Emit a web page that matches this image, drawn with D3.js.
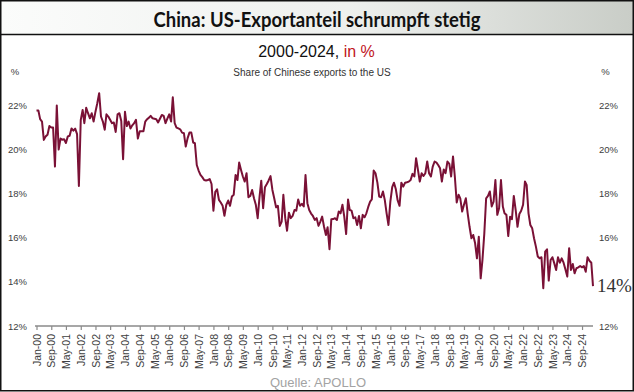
<!DOCTYPE html>
<html>

<meta charset="utf-8">

<svg width="634" height="392"></svg>
<script src="https://d3js.org/d3.v7.min.js"></script>
<style>
  body {
    margin: 0;
  }

  svg {
    display: block;
    background: #fff;
  }

  .axis text {
    font-family: "Liberation Sans", Arial, sans-serif;
    fill: #404040;
  }
</style>
<script>

  // share of Chinese exports going to the US, monthly, Jan-2000 .. Mar-2025 (in %)
  var startMonth = new Date(2000, 0, 1);
  var shareUS = [
    21.77, 21.77, 21.38, 21.27, 20.44, 20.6, 20.67, 21.07, 21.0, 21.0, 19.23, 22.0,     // 2000
    20.0, 20.5, 20.45, 20.47, 20.3, 20.6, 20.63, 20.96, 20.86, 20.95, 20.7, 18.35,      // 2001
    21.35, 21.8, 21.2, 21.9, 21.65, 21.42, 21.65, 21.27, 21.72, 22.1, 22.56, 21.5,      // 2002
    21.27, 20.9, 21.6, 21.5, 21.35, 21.2, 21.23, 20.8, 21.6, 21.65, 21.3, 19.56,        // 2003
    21.72, 21.07, 21.27, 20.96, 21.1, 21.2, 21.35, 20.5, 20.83, 20.83, 20.83, 21.27,    // 2004
    21.38, 21.45, 21.53, 21.42, 21.4, 21.38, 21.23, 21.4, 21.57, 21.53, 21.2, 21.4,     // 2005
    21.6, 21.27, 22.37, 21.2, 21.0, 20.96, 20.92, 20.77, 20.74, 20.14, 20.52, 20.77,    // 2006
    20.77, 20.32, 20.29, 19.3, 19.05, 18.85, 18.75, 18.62, 18.6, 18.62, 18.66, 18.44,   // 2007
    17.23, 18.09, 18.2, 17.72, 17.6, 17.45, 17.0, 17.5, 17.69, 17.45, 17.87, 17.95,     // 2008
    18.85, 18.62, 19.41, 19.08, 18.78, 18.55, 18.93, 17.84, 17.9, 18.17, 17.79, 17.5,   // 2009
    16.89, 17.87, 18.59, 17.34, 18.29, 18.44, 18.6, 18.8, 18.17, 17.79, 17.38, 17.45,   // 2010
    16.54, 16.73, 17.95, 16.89, 16.32, 17.14, 16.89, 16.99, 17.26, 17.23, 17.74, 17.45, // 2011
    17.54, 17.42, 18.85, 17.57, 17.26, 17.1, 16.99, 16.81, 16.89, 16.54, 16.73, 16.96,  // 2012
    16.5, 16.13, 16.48, 15.48, 16.84, 16.85, 16.89, 16.81, 17.19, 17.11, 17.5, 16.96,   // 2013
    16.17, 17.74, 17.26, 17.23, 16.89, 16.93, 16.58, 16.99, 16.43, 17.04, 16.93, 17.11, // 2014
    17.4, 17.64, 17.74, 19.05, 18.93, 18.5, 17.87, 17.84, 18.1, 17.72, 17.1, 16.58,     // 2015
    17.64, 18.3, 18.5, 18.2, 17.69, 17.45, 18.5, 18.32, 18.5, 18.52, 18.55, 18.62,      // 2016
    18.9, 18.78, 19.61, 19.08, 18.55, 18.93, 18.8, 18.93, 19.46, 18.93, 18.78, 19.23,   // 2017
    19.46, 19.41, 19.3, 19.15, 18.55, 19.1, 18.93, 19.46, 19.35, 18.78, 19.69, 18.78,   // 2018
    17.6, 17.95, 17.79, 17.19, 17.5, 17.79, 17.11, 16.5, 15.98, 16.13, 15.75, 15.07,    // 2019
    16.05, 14.16, 14.99, 16.2, 17.79, 17.9, 18.1, 17.42, 17.64, 18.62, 17.04, 17.34,    // 2020
    18.62, 17.42, 17.11, 17.04, 16.08, 16.96, 16.84, 17.9, 17.26, 16.5, 17.08, 17.23,   // 2021
    17.5, 18.55, 18.4, 17.11, 16.58, 16.43, 15.98, 15.6, 15.15, 15.07, 15.12, 13.71,    // 2022
    15.37, 15.48, 14.06, 14.99, 15.12, 14.84, 14.54, 15.12, 14.87, 15.07, 14.87, 14.57, // 2023
    14.24, 15.53, 14.54, 14.81, 14.39, 14.62, 14.66, 14.72, 14.66, 14.72, 14.46, 15.12, // 2024
    14.96, 14.87, 13.81                                                                 // 2025
  ];

  // x axis: a label every 8 months, Jan-00 .. Sep-24
  var tickStepMonths = 8;
  var lastTickMonth = 296;
  // y axes (the right one leaves 14% to the end label)
  var yTicksLeft = [12, 14, 16, 18, 20, 22];
  var yTicksRight = [12, 16, 18, 20, 22];
  var yDomain = [12, 22];

  var titleText = "China: US-Exportanteil schrumpft stetig";
  var subtitleYears = "2000-2024,";
  var subtitleUnit = " in %";
  var seriesName = "Share of Chinese exports to the US";
  var endLabel = "14%";
  var sourceText = "Quelle: APOLLO";

  var data = shareUS.map(function (v, i) {
    return { date: d3.timeMonth.offset(startMonth, i), value: v };
  });

  var svg = d3.select("svg"),
    W = +svg.attr("width"),
    H = +svg.attr("height");

  var lineColor = "#7a1136";

  // scales
  var x = d3.scaleTime()
    .domain(d3.extent(data, function (d) { return d.date; }))
    .range([36.5, 593]);

  var y = d3.scaleLinear()
    .domain(yDomain)
    .range([326, 105.5]);

  // title bar with a light grey gradient
  var defs = svg.append("defs");
  var grad = defs.append("linearGradient")
    .attr("id", "titleGrad")
    .attr("x1", "0%").attr("x2", "100%");
  grad.append("stop").attr("offset", "0%").attr("stop-color", "#fbfcfb");
  grad.append("stop").attr("offset", "55%").attr("stop-color", "#eef0ee");
  grad.append("stop").attr("offset", "100%").attr("stop-color", "#c9cdc7");

  svg.append("rect")
    .attr("x", 1).attr("y", 1)
    .attr("width", W - 2).attr("height", 33)
    .attr("fill", "url(#titleGrad)");

  svg.append("line")
    .attr("x1", 0).attr("x2", W)
    .attr("y1", 34.5).attr("y2", 34.5)
    .attr("stroke", "#111")
    .attr("stroke-width", 1.5);

  svg.append("text")
    .attr("x", W / 2)
    .attr("y", 26.5)
    .attr("text-anchor", "middle")
    .attr("font-family", "Lato, 'Open Sans', sans-serif")
    .attr("font-weight", "bold")
    .attr("font-size", 20)
    .attr("textLength", 327)
    .attr("lengthAdjust", "spacingAndGlyphs")
    .attr("fill", "#111")
    .text(titleText);

  // subtitle lines
  var sub = svg.append("text")
    .attr("x", 316.5)
    .attr("y", 57)
    .attr("text-anchor", "middle")
    .attr("font-family", "'Liberation Sans', Arial, sans-serif")
    .attr("font-size", 16);
  sub.append("tspan").attr("fill", "#111").text(subtitleYears);
  sub.append("tspan").attr("fill", "#c0141c").text(subtitleUnit);

  svg.append("text")
    .attr("x", 312)
    .attr("y", 76)
    .attr("text-anchor", "middle")
    .attr("font-family", "'Liberation Sans', Arial, sans-serif")
    .attr("font-size", 10)
    .attr("fill", "#333")
    .text(seriesName);

  // "%" unit marks above both y axes
  [15, 605.5].forEach(function (px) {
    svg.append("text")
      .attr("x", px)
      .attr("y", 75)
      .attr("text-anchor", "middle")
      .attr("font-family", "'Liberation Sans', Arial, sans-serif")
      .attr("font-size", 9.5)
      .attr("fill", "#404040")
      .text("%");
  });

  // y axes, labels only
  var yLeft = svg.append("g")
    .attr("class", "axis")
    .attr("transform", "translate(27,0)")
    .call(d3.axisLeft(y).tickValues(yTicksLeft).tickSize(0).tickPadding(0)
      .tickFormat(function (d) { return d + "%"; }));

  var yRight = svg.append("g")
    .attr("class", "axis")
    .attr("transform", "translate(599,0)")
    .call(d3.axisRight(y).tickValues(yTicksRight).tickSize(0).tickPadding(0)
      .tickFormat(function (d) { return d + "%"; }));

  [yLeft, yRight].forEach(function (g) {
    g.select(".domain").remove();
    g.selectAll("text").attr("font-size", 9.5);
  });

  // x axis
  var tickDates = d3.range(0, lastTickMonth + 1, tickStepMonths).map(function (m) {
    return d3.timeMonth.offset(startMonth, m);
  });

  var xAxis = svg.append("g")
    .attr("class", "axis")
    .attr("transform", "translate(0," + y(yDomain[0]) + ")")
    .call(d3.axisBottom(x).tickValues(tickDates).tickSizeInner(4).tickSizeOuter(0)
      .tickFormat(d3.timeFormat("%b-%y")));

  xAxis.select(".domain")
    .attr("stroke", "#8a8a8a")
    .attr("stroke-width", 1.5)
    .attr("d", "M35,0H593");
  xAxis.selectAll(".tick line")
    .attr("stroke", "#8a8a8a")
    .attr("stroke-width", 1.2);
  xAxis.selectAll(".tick text")
    .attr("font-size", 10.5)
    .attr("transform", "rotate(-90)")
    .attr("x", -8)
    .attr("y", 0)
    .attr("dy", "0.35em")
    .style("text-anchor", "end");

  // the line
  var line = d3.line()
    .x(function (d) { return x(d.date); })
    .y(function (d) { return y(d.value); });

  svg.append("path")
    .datum(data)
    .attr("fill", "none")
    .attr("stroke", lineColor)
    .attr("stroke-width", 2)
    .attr("stroke-linejoin", "round")
    .attr("d", line);

  // end label
  svg.append("text")
    .attr("x", 597)
    .attr("y", 292)
    .attr("font-family", "'Liberation Serif', 'Times New Roman', serif")
    .attr("font-size", 19)
    .attr("fill", "#333")
    .text(endLabel);

  // source
  svg.append("text")
    .attr("x", 318)
    .attr("y", 387)
    .attr("text-anchor", "middle")
    .attr("font-family", "'Liberation Sans', Arial, sans-serif")
    .attr("font-size", 13)
    .attr("fill", "#a3a3a3")
    .text(sourceText);

  // frame round the whole picture
  svg.append("rect")
    .attr("x", 0.75).attr("y", 0.75)
    .attr("width", W - 1.5).attr("height", H - 2)
    .attr("fill", "none")
    .attr("stroke", "#111")
    .attr("stroke-width", 1.5);

</script>

</html>
